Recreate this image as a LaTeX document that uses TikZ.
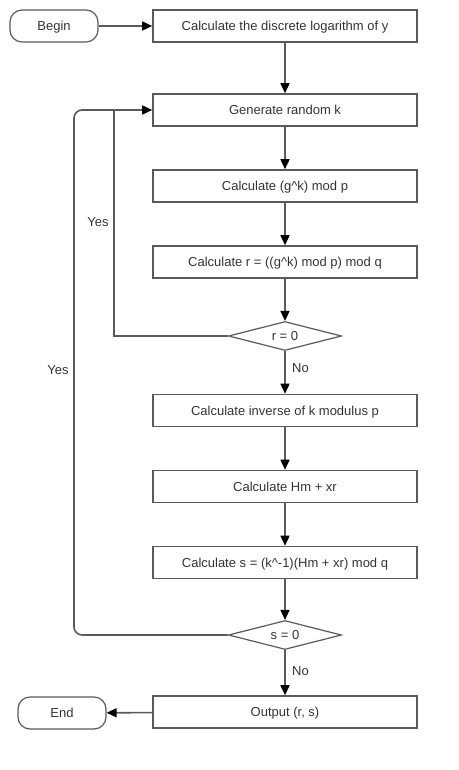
\documentclass[tikz,border=0pt]{standalone}
\usepackage{fontspec}
\setmainfont{Liberation Sans}
\usepackage{tikz}
\usetikzlibrary{arrows.meta, shapes.geometric}
\usepackage{xcolor}
\definecolor{linegray}{HTML}{5A5A5A}
\definecolor{txtgray}{HTML}{333333}

\begin{document}
\begin{tikzpicture}[x=1pt, y=-1pt,
	every node/.style={text=txtgray, font=\fontsize{13}{15}\selectfont, text height=9.4pt, text depth=0pt},
	proc/.style={draw=linegray, line width=1.6pt, minimum width=264pt, minimum height=32pt, inner sep=0pt},
	term/.style={draw=linegray, line width=1.2pt, rounded corners=12pt, minimum width=88pt, minimum height=32pt, inner sep=0pt},
	decis/.style={draw=linegray, line width=1.2pt, diamond, aspect=3.9, minimum width=113pt, minimum height=29pt, inner sep=0pt},
	conn/.style={draw=linegray, line width=1.6pt},
	arr/.style={-{Triangle[length=10pt, width=9pt, color=black]}}]
	\useasboundingbox (0,0) rectangle (458,770);
	% nodes
	\node [term] (begin) at (54,26) {Begin};
	\node [proc] (dlog) at (285,26) {Calculate the discrete logarithm of y};
	\node [proc] (gen) at (285,110) {Generate random k};
	\node [proc] (gk) at (285,186) {Calculate (g\^{}k) mod p};
	\node [proc] (rval) at (285,262) {Calculate r = ((g\^{}k) mod p) mod q};
	\node [decis] (r0) at (285,336) {r = 0};
	\node [proc] (inv) at (285,410.5) {Calculate inverse of k modulus p};
	\node [proc] (hm) at (285,486.5) {Calculate Hm + xr};
	\node [proc] (sval) at (285,562.5) {Calculate s = (k\^{}-1)(Hm + xr) mod q};
	\node [decis] (s0) at (285,635) {s = 0};
	\node [proc] (out) at (285,712) {Output (r, s)};
	\node [term] (end) at (62,713) {End};
	\coordinate (jr) at (114,110);
	\coordinate (ls) at (74,110);
	% connectors
	\draw [conn, arr] (begin) -- (dlog);
	\draw [conn, arr] (dlog) -- (gen);
	\draw [conn, arr] (gen) -- (gk);
	\draw [conn, arr] (gk) -- (rval);
	\draw [conn, arr] (rval) -- (r0);
	\draw [conn, arr] (r0) -- (inv) node [pos=0.4, right=3pt] {No};
	\draw [conn, arr] (inv) -- (hm);
	\draw [conn, arr] (hm) -- (sval);
	\draw [conn, arr] (sval) -- (s0);
	\draw [conn, arr] (s0) -- (out) node [pos=0.45, right=3pt] {No};
	\draw [conn, arr] (out) -- (end);
	\draw [conn] (r0.west) -| (jr);
	\draw [conn, arr, rounded corners=8pt] (s0.west) -| (ls) -- (gen.west);
	\path (98,222) node {Yes};
	\path (58,370) node {Yes};
\end{tikzpicture}
\end{document}
